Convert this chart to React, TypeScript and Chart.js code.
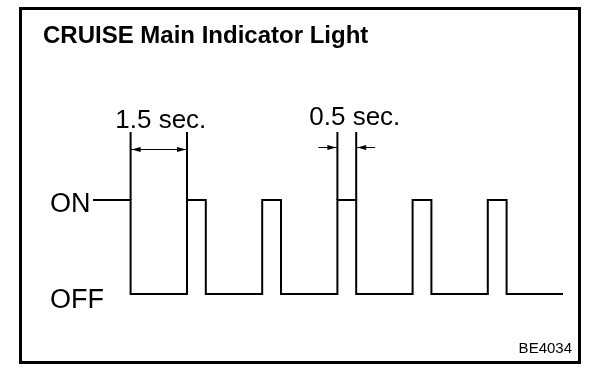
import { useEffect, useRef } from 'react';
import { Chart, registerables } from 'chart.js';

Chart.register(...registerables);

// ---- data ----
const switchTimes = [-1.0, 0, 1.5, 2.0, 3.5, 4.0, 5.5, 6.0, 7.5, 8.0, 9.5, 10.0, 11.5];
const lampLevels = [1, 0, 1, 0, 1, 0, 1, 0, 1, 0, 1, 0, 0];
const levelLabels = ['OFF', 'ON'];
const dimStarts = [0, 5.5];
const dimEnds = [1.5, 6.0];
const dimLabels = ['1.5 sec.', '0.5 sec.'];
const titleText = 'CRUISE Main Indicator Light';
const figureCode = 'BE4034';

// ---- styles (not data) ----
const FONT = '"Liberation Sans", Arial, Helvetica, sans-serif';
const dimStyles = [
  { inside: true, arrowY: 149, textY: 128, textDx: 2 },
  { inside: false, arrowY: 147, textY: 125, textDx: 8 },
];

function arrowHead(ctx: CanvasRenderingContext2D, tipX: number, y: number, dir: number) {
  const len = 9;
  const half = 2.5;
  ctx.beginPath();
  ctx.moveTo(tipX, y);
  ctx.lineTo(tipX - dir * len, y - half);
  ctx.lineTo(tipX - dir * len, y + half);
  ctx.closePath();
  ctx.fill();
}

const decorPlugin = {
  id: 'decor',
  afterDatasetsDraw(chart: any) {
    const ctx: CanvasRenderingContext2D = chart.ctx;
    const xs = chart.scales.x;
    const ys = chart.scales.y;
    ctx.save();
    ctx.strokeStyle = '#000';
    ctx.fillStyle = '#000';

    // frame
    ctx.lineWidth = 3;
    ctx.strokeRect(20.5, 8.5, 559, 354);

    // title
    ctx.textAlign = 'left';
    ctx.textBaseline = 'alphabetic';
    ctx.font = `bold 24px ${FONT}`;
    ctx.fillText(titleText, 43, 43);

    // level labels
    const yOn = ys.getPixelForValue(1);
    const yOff = ys.getPixelForValue(0);
    ctx.font = `27px ${FONT}`;
    ctx.fillText(levelLabels[1], 50, yOn + 12);
    ctx.fillText(levelLabels[0], 50, yOff + 14);

    // dimensions
    for (let i = 0; i < dimStarts.length; i++) {
      const st = dimStyles[i];
      const x0 = xs.getPixelForValue(dimStarts[i]);
      const x1 = xs.getPixelForValue(dimEnds[i]);
      ctx.lineWidth = 2;
      ctx.beginPath();
      ctx.moveTo(x0, 132);
      ctx.lineTo(x0, yOn);
      ctx.moveTo(x1, 132);
      ctx.lineTo(x1, yOn);
      ctx.stroke();

      ctx.lineWidth = 1;
      const y = st.arrowY + 0.5;
      if (st.inside) {
        ctx.beginPath();
        ctx.moveTo(x0, y);
        ctx.lineTo(x1, y);
        ctx.stroke();
        arrowHead(ctx, x0 + 1, y, -1);
        arrowHead(ctx, x1 - 1, y, 1);
      } else {
        ctx.beginPath();
        ctx.moveTo(x0 - 19, y);
        ctx.lineTo(x0, y);
        ctx.moveTo(x1 + 19, y);
        ctx.lineTo(x1, y);
        ctx.stroke();
        arrowHead(ctx, x0 - 1, y, 1);
        arrowHead(ctx, x1 + 1, y, -1);
      }

      ctx.font = `26px ${FONT}`;
      ctx.textAlign = 'center';
      ctx.fillText(dimLabels[i], (x0 + x1) / 2 + st.textDx, st.textY);
      ctx.textAlign = 'left';
    }

    // figure code
    ctx.font = `15px ${FONT}`;
    ctx.textAlign = 'right';
    ctx.fillText(figureCode, 572, 353);

    ctx.restore();
  },
};

export default function App() {
  const canvasRef = useRef<HTMLCanvasElement | null>(null);

  useEffect(() => {
    document.body.style.margin = '0';
    document.body.style.background = '#fff';
    const canvas = canvasRef.current;
    if (!canvas) return;
    const chart = new Chart(canvas, {
      type: 'line',
      data: {
        datasets: [
          {
            data: switchTimes.map((t, i) => ({ x: t, y: lampLevels[i] })),
            stepped: true,
            borderColor: '#000',
            borderWidth: 2,
            pointRadius: 0,
            fill: false,
            clip: false as any,
            borderJoinStyle: 'miter',
            borderCapStyle: 'butt',
          } as any,
        ],
      },
      options: {
        responsive: false,
        animation: false,
        devicePixelRatio: 1,
        layout: { padding: { left: 93, right: 45, top: 200, bottom: 94 } },
        plugins: {
          legend: { display: false },
          title: { display: false },
          tooltip: { enabled: false },
        },
        scales: {
          x: { type: 'linear', min: -1.0, max: 11.5, display: false },
          y: { type: 'linear', min: 0, max: 1, display: false },
        },
        events: [],
      },
      plugins: [decorPlugin],
    });
    return () => chart.destroy();
  }, []);

  return (
    <div style={{ width: 608, height: 388, background: '#fff' }}>
      <canvas ref={canvasRef} width={608} height={388} style={{ display: 'block', width: 608, height: 388 }} />
    </div>
  );
}
